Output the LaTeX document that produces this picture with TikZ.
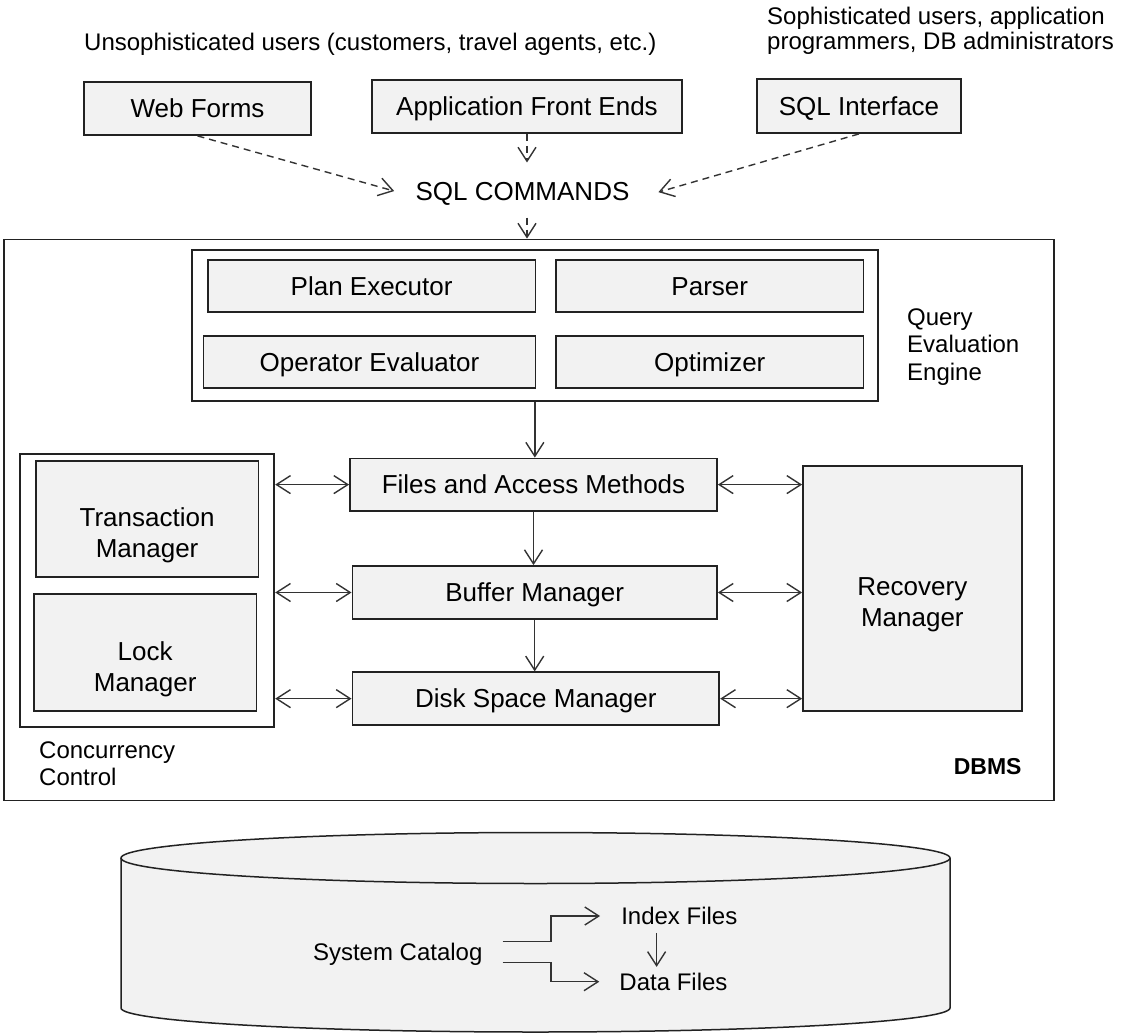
\documentclass[tikz,border=0pt]{standalone}
\usepackage{fontspec}
\setmainfont{Liberation Sans}
\usetikzlibrary{arrows.meta}
\definecolor{boxgray}{HTML}{F2F2F2}
\definecolor{linegray}{HTML}{222222}

\begin{document}
\begin{tikzpicture}[x=1pt,y=-1pt,
  panel/.style={draw=linegray,line width=1.8pt,inner sep=0pt},
  blk/.style={panel,fill=boxgray,font=\fontsize{26}{31}\selectfont,align=center,text height=18.6pt,text depth=0pt},
  lbl/.style={inner sep=0pt,font=\fontsize{26}{31}\selectfont,align=center},
  note/.style={inner sep=0pt,font=\fontsize{24}{27.5}\selectfont,align=left},
  tag/.style={note,text height=17.2pt,text depth=0pt},
  arr/.style={draw=black!80,line width=1.4pt,-{Straight Barb[length=14pt,width=18pt]}},
  dblarr/.style={arr,{Straight Barb[length=14pt,width=18pt]}-{Straight Barb[length=14pt,width=18pt]}},
  dasharr/.style={arr,dash pattern=on 7pt off 5pt}]
\useasboundingbox (0,0) rectangle (1121,1035);

% Users and interfaces
\node[tag,anchor=north west] (naive) at (84,33.5) {Unsophisticated users (customers, travel agents, etc.)};
\node[note,anchor=north west,font=\fontsize{24}{24.5}\selectfont] (expert) at (767,7) {Sophisticated users, application\\programmers, DB administrators};

\node[blk,minimum width=227pt,minimum height=53pt] (webforms) at (197.5,108.5) {Web Forms};
\node[blk,minimum width=310pt,minimum height=53pt] (frontends) at (527,106.5) {Application Front Ends};
\node[blk,minimum width=204pt,minimum height=54pt] (sqlif) at (859,106) {SQL Interface};
\node[lbl,text height=18.6pt,text depth=0pt] (sqlcmd) at (522.5,191) {SQL COMMANDS};

\draw[dasharr,shorten >=22pt] (webforms.south) -- ([yshift=-6pt]sqlcmd.west);
\draw[dasharr,shorten >=30pt] (sqlif.south) -- (sqlcmd.south east);
\draw[dasharr,shorten >=19pt] (frontends.south) -- (frontends.south |- sqlcmd.north);

% DBMS
\node[panel,minimum width=1050.7pt,minimum height=561pt] (dbms) at (528.95,520) {};
\draw[dasharr,shorten <=17pt] (frontends.south |- sqlcmd.south) -- (frontends.south |- dbms.north);
\node[inner sep=0pt,anchor=east,font=\fontsize{23}{27}\selectfont\bfseries,text height=16.5pt,text depth=0pt] (dbmslabel) at (1021.7,766.7) {DBMS};

% Query evaluation engine
\node[panel,minimum width=686pt,minimum height=150.7pt] (qee) at (534.85,325.35) {};
\node[blk,minimum width=327.7pt,minimum height=52.3pt] (planexec) at (371.65,286.15) {Plan Executor};
\node[blk,minimum width=307.5pt,minimum height=52.3pt] (parser) at (709.75,286.15) {Parser};
\node[blk,minimum width=332pt,minimum height=52.3pt] (opeval) at (369.5,362.15) {Operator Evaluator};
\node[blk,minimum width=307.5pt,minimum height=52.3pt] (optimizer) at (709.75,362.15) {Optimizer};
\node[note,anchor=north west] (qeelabel) at (907,308.3) {Query\\Evaluation\\Engine};

% Storage layers
\node[blk,minimum width=367pt,minimum height=52.2pt] (files) at (533.5,484.6) {Files and Access Methods};
\node[blk,minimum width=364.6pt,minimum height=53pt] (buffer) at (534.7,592.5) {Buffer Manager};
\node[blk,minimum width=366.9pt,minimum height=52.7pt] (disk) at (535.85,698.65) {Disk Space Manager};

\draw[arr] (qee.south) -- (qee.south |- files.north);
\draw[arr] (files.south) -- (files.south |- buffer.north);
\draw[arr] (buffer.south) -- (buffer.south |- disk.north);

% Concurrency control
\node[panel,minimum width=254.7pt,minimum height=272.7pt] (ccbox) at (146.95,590.35) {};
\node[blk,minimum width=222.8pt,minimum height=116pt] (txmgr) at (147.1,518.7) {};
\node[lbl,yshift=-17pt] (txtext) at (txmgr) {Transaction\\Manager};
\node[blk,minimum width=222.5pt,minimum height=116.7pt] (lockmgr) at (145.15,652.35) {};
\node[lbl,yshift=-17pt] (locktext) at (lockmgr) {Lock\\Manager};
\node[note,anchor=north west,font=\fontsize{24}{27}\selectfont] (cclabel) at (39,741.7) {Concurrency\\Control};

% Recovery
\node[blk,minimum width=218.7pt,minimum height=244.7pt] (recovery) at (912.35,588.35) {};
\node[lbl,yshift=-16pt] (rectext) at (recovery) {Recovery\\Manager};

\foreach \n in {files,buffer,disk} {
    \draw[dblarr] (ccbox.east |- \n.west) -- (\n.west);
    \draw[dblarr] (\n.east) -- (\n.east -| recovery.west);
}

% Disk storage
\draw[draw=linegray,line width=1.5pt,fill=boxgray] (121,858) -- (121,1008)
    arc[start angle=180,end angle=360,x radius=414.5pt,y radius=24pt] -- (950,858);
\draw[draw=linegray,line width=1.5pt,fill=boxgray] (535.5,858) ellipse[x radius=414.5pt,y radius=25.5pt];

\node[tag] (syscat) at (397.75,951.7) {System Catalog};
\node[tag] (idxfiles) at (679.3,916) {Index Files};
\node[tag] (datafiles) at (673.5,981.7) {Data Files};

\draw[arr,shorten >=21pt] ([shift={(20,-10)}]syscat.east) -- ++(48.4,0) |- (idxfiles.west);
\draw[arr,shorten >=20pt] ([shift={(20,11)}]syscat.east) -- ++(48.4,0) |- (datafiles.west);
\draw[arr,shorten <=8pt,shorten >=6pt] ([xshift=-22.7pt]idxfiles.south) -- ([xshift=-22.7pt]idxfiles.south |- datafiles.north);
\end{tikzpicture}
\end{document}
